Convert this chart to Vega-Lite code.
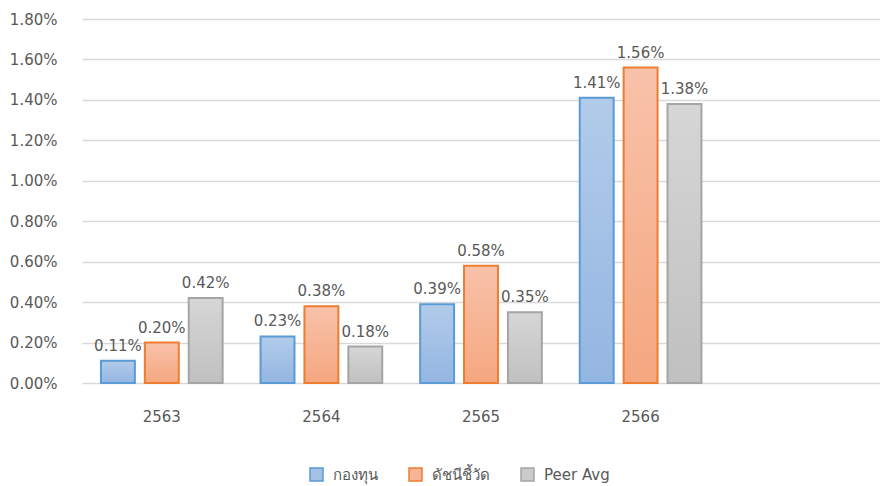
{
  "$schema": "https://vega.github.io/schema/vega-lite/v6.json",
  "width": 798,
  "height": 364,
  "autosize": {"type": "none"},
  "padding": {"left": 82, "top": 19, "right": 0, "bottom": 103},
  "config": {"view": {"stroke": null}, "font": "DejaVu Sans"},
  "data": {
    "values": [
      {"year": "2563", "series": "กองทุน", "value": 0.11, "label": "0.11%"},
      {"year": "2563", "series": "ดัชนีชี้วัด", "value": 0.20, "label": "0.20%"},
      {"year": "2563", "series": "Peer Avg", "value": 0.42, "label": "0.42%"},
      {"year": "2564", "series": "กองทุน", "value": 0.23, "label": "0.23%"},
      {"year": "2564", "series": "ดัชนีชี้วัด", "value": 0.38, "label": "0.38%"},
      {"year": "2564", "series": "Peer Avg", "value": 0.18, "label": "0.18%"},
      {"year": "2565", "series": "กองทุน", "value": 0.39, "label": "0.39%"},
      {"year": "2565", "series": "ดัชนีชี้วัด", "value": 0.58, "label": "0.58%"},
      {"year": "2565", "series": "Peer Avg", "value": 0.35, "label": "0.35%"},
      {"year": "2566", "series": "กองทุน", "value": 1.41, "label": "1.41%"},
      {"year": "2566", "series": "ดัชนีชี้วัด", "value": 1.56, "label": "1.56%"},
      {"year": "2566", "series": "Peer Avg", "value": 1.38, "label": "1.38%"}
    ]
  },
  "encoding": {
    "x": {
      "field": "year",
      "type": "nominal",
      "scale": {"domain": ["2563", "2564", "2565", "2566", "-"], "paddingInner": 0, "paddingOuter": 0},
      "axis": {
        "title": null,
        "domain": false,
        "ticks": false,
        "labelPadding": 26,
        "labelFontSize": 15,
        "labelColor": "#595959",
        "labelAngle": 0,
        "labelExpr": "datum.value === '-' ? '' : datum.value"
      }
    },
    "xOffset": {
      "field": "series",
      "type": "nominal",
      "scale": {"domain": ["กองทุน", "ดัชนีชี้วัด", "Peer Avg"], "paddingInner": 0.227, "paddingOuter": 0.432}
    },
    "y": {
      "field": "value",
      "type": "quantitative",
      "scale": {"domain": [0, 1.8], "nice": false},
      "axis": {
        "title": null,
        "domain": false,
        "ticks": false,
        "values": [0, 0.2, 0.4, 0.6, 0.8, 1.0, 1.2, 1.4, 1.6, 1.8],
        "labelExpr": "format(datum.value, '.2f') + '%'",
        "labelPadding": 25,
        "labelFontSize": 15,
        "labelColor": "#595959",
        "gridColor": "#d9d9d9",
        "gridWidth": 1.3
      }
    }
  },
  "layer": [
    {
      "mark": {"type": "bar", "strokeWidth": 2},
      "encoding": {
        "fill": {
          "field": "series",
          "type": "nominal",
          "scale": {"domain": ["กองทุน", "ดัชนีชี้วัด", "Peer Avg"], "range": ["#a5c2e6", "#f6b596", "#cbcbcb"]},
          "legend": {
            "orient": "none",
            "legendX": 227,
            "legendY": 448,
            "direction": "horizontal",
            "title": null,
            "symbolType": "square",
            "symbolSize": 169,
            "symbolStrokeWidth": 1.5,
            "labelFontSize": 15,
            "labelColor": "#595959",
            "columnPadding": 28,
            "labelOffset": 9
          },
          "condition": [
            {"test": "datum.series === 'กองทุน'", "value": {"gradient": "linear", "x1": 0, "y1": 0, "x2": 0, "y2": 1, "stops": [{"offset": 0, "color": "#b2cbea"}, {"offset": 1, "color": "#94b6e2"}]}},
            {"test": "datum.series === 'ดัชนีชี้วัด'", "value": {"gradient": "linear", "x1": 0, "y1": 0, "x2": 0, "y2": 1, "stops": [{"offset": 0, "color": "#f8c2aa"}, {"offset": 1, "color": "#f5a77f"}]}},
            {"test": "datum.series === 'Peer Avg'", "value": {"gradient": "linear", "x1": 0, "y1": 0, "x2": 0, "y2": 1, "stops": [{"offset": 0, "color": "#d6d6d6"}, {"offset": 1, "color": "#c0c0c0"}]}}
          ]
        },
        "stroke": {
          "field": "series",
          "type": "nominal",
          "scale": {"domain": ["กองทุน", "ดัชนีชี้วัด", "Peer Avg"], "range": ["#5b9bd5", "#ed7d31", "#a5a5a5"]}
        }
      }
    },
    {
      "mark": {"type": "text", "dy": -10, "baseline": "alphabetic", "fontSize": 15, "color": "#595959"},
      "encoding": {"text": {"field": "label", "type": "nominal"}}
    }
  ]
}
